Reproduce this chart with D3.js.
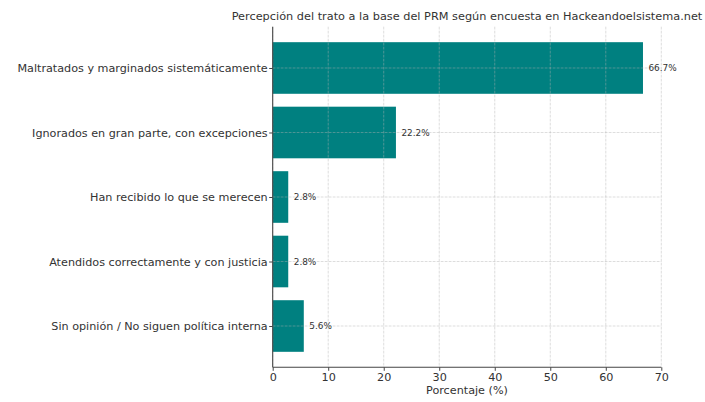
<!DOCTYPE html>
<html><head><meta charset="utf-8">
<script src="https://cdn.jsdelivr.net/npm/d3@7"></script>
<style>
html,body{margin:0;padding:0;background:#fff;}
text{font-family:"DejaVu Sans",sans-serif;}
</style></head>
<body>
<svg id="c" width="705" height="402"></svg>
<script>
const categories = [
  "Maltratados y marginados sistemáticamente",
  "Ignorados en gran parte, con excepciones",
  "Han recibido lo que se merecen",
  "Atendidos correctamente y con justicia",
  "Sin opinión / No siguen política interna"
];
const values = [66.7, 22.2, 2.8, 2.8, 5.6];
const xTicks = [0, 10, 20, 30, 40, 50, 60, 70];
const title = "Percepción del trato a la base del PRM según encuesta en Hackeandoelsistema.net";
const xLabel = "Porcentaje (%)";

const svg = d3.select("#c");
const L = 272.7, R = 661.3, T = 26.7, B = 367.3;

const x = d3.scaleLinear().domain([0, 70]).range([L, R]);
const n = categories.length;
const lo = -0.4 - 0.05 * (n - 1 + 0.8), hi = n - 1 + 0.4 + 0.05 * (n - 1 + 0.8);
const y = d3.scaleLinear().domain([lo, hi]).range([T, B]);
const bh = y(0.4) - y(-0.4);

svg.append("g").selectAll("rect").data(values).join("rect")
  .attr("x", x(0))
  .attr("y", (d, i) => y(i) - bh / 2)
  .attr("width", d => x(d) - x(0))
  .attr("height", bh)
  .attr("fill", "#008080");

const grid = svg.append("g").attr("stroke", "#b0b0b0").attr("stroke-opacity", 0.55)
  .attr("stroke-width", 0.8).attr("stroke-dasharray", "2.8,1.2");
grid.selectAll("line.v").data(xTicks).join("line").attr("class", "v")
  .attr("x1", d => x(d)).attr("x2", d => x(d)).attr("y1", T).attr("y2", B);
grid.selectAll("line.h").data(categories).join("line").attr("class", "h")
  .attr("x1", L).attr("x2", R).attr("y1", (d, i) => y(i)).attr("y2", (d, i) => y(i));

svg.append("g").selectAll("text").data(values).join("text")
  .attr("x", d => x(d) + 5.5)
  .attr("y", (d, i) => y(i))
  .attr("dy", "0.35em")
  .attr("font-size", 8.9)
  .attr("fill", "#333")
  .text(d => d.toFixed(1) + "%");

const xAxis = d3.axisBottom(x).tickValues(xTicks).tickSize(3.5).tickPadding(2.5);
const gx = svg.append("g").attr("transform", `translate(0,${B})`).call(xAxis);
gx.select(".domain").attr("stroke", "#444").attr("stroke-width", 1.1).attr("d", `M${L},0H${R}`);
gx.selectAll(".tick line").attr("stroke", "#444");
gx.selectAll(".tick text").attr("font-size", 11.2).attr("fill", "#333")
  .attr("font-family", "DejaVu Sans");

const yAxis = d3.axisLeft(y).tickValues(d3.range(n)).tickFormat(i => categories[i]).tickSize(3.5).tickPadding(1.5);
const gy = svg.append("g").attr("transform", `translate(${L},0)`).call(yAxis);
gy.select(".domain").attr("stroke", "#444").attr("stroke-width", 1.1).attr("d", `M0,${T}V${B}`);
gy.selectAll(".tick line").attr("stroke", "#444");
gy.selectAll(".tick text").attr("font-size", 11.2).attr("fill", "#333")
  .attr("font-family", "DejaVu Sans");

svg.append("text").attr("x", (L + R) / 2).attr("y", 394).attr("text-anchor", "middle")
  .attr("font-size", 11.2).attr("fill", "#333").text(xLabel);
svg.append("text").attr("x", (L + R) / 2).attr("y", 20).attr("text-anchor", "middle")
  .attr("font-size", 11.3).attr("fill", "#333").text(title);
</script>
</body></html>
